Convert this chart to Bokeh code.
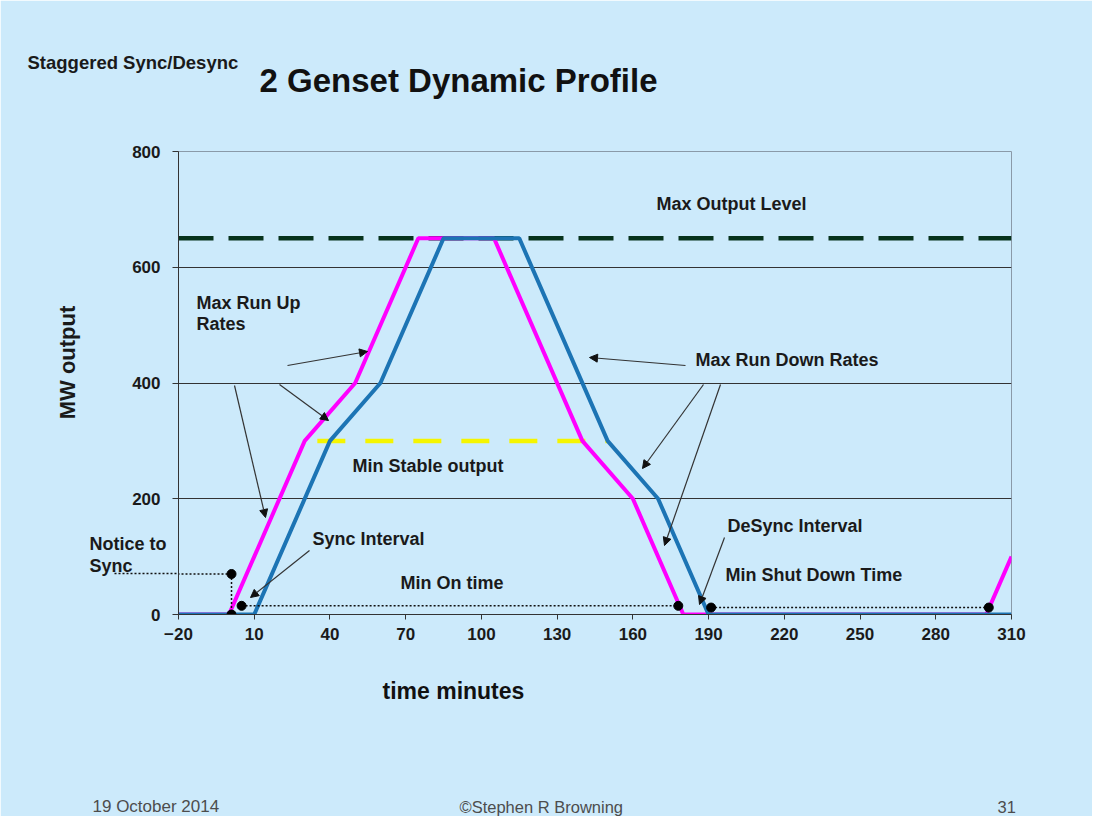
import math
from bokeh.plotting import figure
from bokeh.models import Range1d, Label, Arrow, NormalHead, FixedTicker
from bokeh.embed import file_html
from bokeh.resources import INLINE

# ---------------- data ----------------
time_magenta = [-20, 0, 30, 50, 75, 105, 140, 160, 180, 300, 310]
mw_magenta = [0, 0, 300, 400, 650, 650, 300, 200, 0, 0, 100]
time_blue = [-20, 10, 40, 60, 85, 115, 150, 170, 190, 310]
mw_blue = [0, 0, 300, 400, 650, 650, 300, 200, 0, 0]
max_output_x = [-20, 310]
max_output_y = [650, 650]
min_stable_x = [35, 150]
min_stable_y = [300, 300]
x_ticks = [-20, 10, 40, 70, 100, 130, 160, 190, 220, 250, 280, 310]
y_ticks = [0, 200, 400, 600, 800]

# marker points / dotted intervals
dots_x = [1, 1, 5, 178, 191, 301]
dots_y = [70, 0, 15, 15, 12, 12]
dotted_x0 = [1, 1, 5, 191]
dotted_y0 = [70, 70, 15, 12]
dotted_x1 = [1, -20, 178, 301]
dotted_y1 = [0, 70, 15, 12]
notice_level = 70
notice_to_x = -45.5

# ---------------- layout ----------------
BG = "#CCEAFB"
FONT = "Liberation Sans"
FW, FH = 833, 463
LEFT, TOP = 178, 151
X0 = 8 + LEFT
Y0 = 8 + TOP + FH


def dx(px):
    return (px - X0) * 330.0 / FW - 20


def dy(py):
    return (Y0 - py) * 800.0 / FH


p = figure(frame_width=FW, frame_height=FH,
           min_border_left=LEFT, min_border_top=TOP,
           min_border_right=1092 - LEFT - FW, min_border_bottom=816 - TOP - FH,
           x_range=Range1d(-20, 310), y_range=Range1d(0, 800),
           output_backend="svg", toolbar_location=None,
           background_fill_color=BG, border_fill_color=BG)

p.outline_line_color = "#8A9AA8"
p.xgrid.visible = False
p.ygrid.grid_line_color = "#333333"
p.ygrid.grid_line_width = 1

for ax in (p.xaxis[0], p.yaxis[0]):
    ax.axis_line_color = "#333333"
    ax.major_tick_line_color = "#333333"
    ax.major_tick_in = 0
    ax.major_label_text_font = FONT
    ax.major_label_text_font_size = "17px"
    ax.major_label_text_font_style = "bold"
    ax.major_label_text_color = "#1a1a1a"

p.xaxis.ticker = FixedTicker(ticks=x_ticks)
p.xaxis.minor_tick_line_color = None
p.xaxis.major_tick_out = 5
p.xaxis.major_label_standoff = 8

# the dotted "notice to sync" line continues left of the axis: drawn as one long dotted minor tick
NOTICE_OUT = X0 - 122
p.yaxis.ticker = FixedTicker(ticks=y_ticks, minor_ticks=[notice_level])
p.yaxis.minor_tick_line_color = "#111111"
p.yaxis.minor_tick_line_width = 1.5
p.yaxis.minor_tick_line_dash = "2 2"
p.yaxis.minor_tick_in = 0
p.yaxis.minor_tick_out = NOTICE_OUT
p.yaxis.major_tick_out = 6
p.yaxis.major_label_standoff = 18 - NOTICE_OUT

# reference levels
p.line(max_output_x, max_output_y, line_color="#06331C", line_width=4.5, line_dash="35 15")
p.line(min_stable_x, min_stable_y, line_color="#F5F500", line_width=4.5, line_dash="28 20")

# genset profiles
p.line(time_magenta, mw_magenta, line_color="#FF00FF", line_width=4)
p.line(time_blue, mw_blue, line_color="#1C74B4", line_width=4)

# dotted intervals and markers
p.segment(dotted_x0, dotted_y0, dotted_x1, dotted_y1, line_color="#111111",
          line_width=1.5, line_dash="2 2")
p.scatter(dots_x, dots_y, size=9, color="black")

# annotation arrows (page pixel positions)
arrows_px = [((295, 373), (375, 359)), ((287, 392), (336, 428)),
             ((242, 393), (273, 525)), ((317, 558), (258, 605)),
             ((693, 373), (597, 365)), ((711, 392), (650, 476)),
             ((728, 392), (672, 553)), ((732, 545), (707, 612))]
for (sx, sy), (ex, ey) in arrows_px:
    p.add_layout(Arrow(end=NormalHead(size=8, fill_color="#111111", line_color="#111111"),
                       x_start=dx(sx), y_start=dy(sy), x_end=dx(ex), y_end=dy(ey),
                       line_color="#333333", line_width=1.2))

# arrow head of the notice line (shaft drawn by the dotted segment / minor tick)
p.add_layout(Arrow(end=NormalHead(size=10, fill_color="black", line_color="black"),
                   x_start=-40, y_start=notice_level, x_end=notice_to_x, y_end=notice_level,
                   line_alpha=0))

# chart texts inside the frame: (text, left px, centre px)
chart_texts = [("Max Output Level", 664, 211), ("Max Run Up", 204, 310), ("Rates", 204, 331),
               ("Max Run Down Rates", 703, 367), ("Min Stable output", 360, 473),
               ("Sync Interval", 320, 546),
               ("Min On time", 408, 590), ("DeSync Interval", 735, 533),
               ("Min Shut Down Time", 733, 582)]
for t, lx, cy in chart_texts:
    p.add_layout(Label(x=dx(lx), y=dy(cy), text=t, text_font=FONT, text_font_size="18px",
                       text_font_style="bold", text_color="#1a1a1a", text_baseline="middle"))

# texts outside the frame, put in side panels so they are not clipped
# (text, left px, centre px, size, style, colour, panel)
outer_texts = [("Staggered Sync/Desync", 35, 70, "18.5px", "bold", "#1a1a1a", "above"),
               ("2 Genset Dynamic Profile", 267, 88, "33px", "bold", "#111111", "above"),
               ("Notice to", 97, 551, "18px", "bold", "#1a1a1a", "above"),
               ("Sync", 97, 573, "18px", "bold", "#1a1a1a", "above"),
               ("time minutes", 390, 698, "23px", "bold", "#111111", "below"),
               ("19 October 2014", 100, 814, "17px", "normal", "#4d4d4d", "below"),
               ("\u00a9Stephen R Browning", 467, 814, "16.5px", "normal", "#4d4d4d", "below"),
               ("31", 1005, 814, "16.5px", "normal", "#4d4d4d", "below")]
for t, lx, cy, fs, st, col, side in outer_texts:
    p.add_layout(Label(x=dx(lx), y=dy(cy), text=t, text_font=FONT, text_font_size=fs,
                       text_font_style=st, text_color=col, text_baseline="middle"), side)

# y axis title, rotated
p.add_layout(Label(x=dx(75), y=dy(370), text="MW output", text_font=FONT,
                   text_font_size="22px", text_font_style="bold", text_color="#1a1a1a",
                   text_align="center", text_baseline="middle", angle=math.pi / 2), "right")

open("out.html", "w").write(file_html(p, INLINE))
